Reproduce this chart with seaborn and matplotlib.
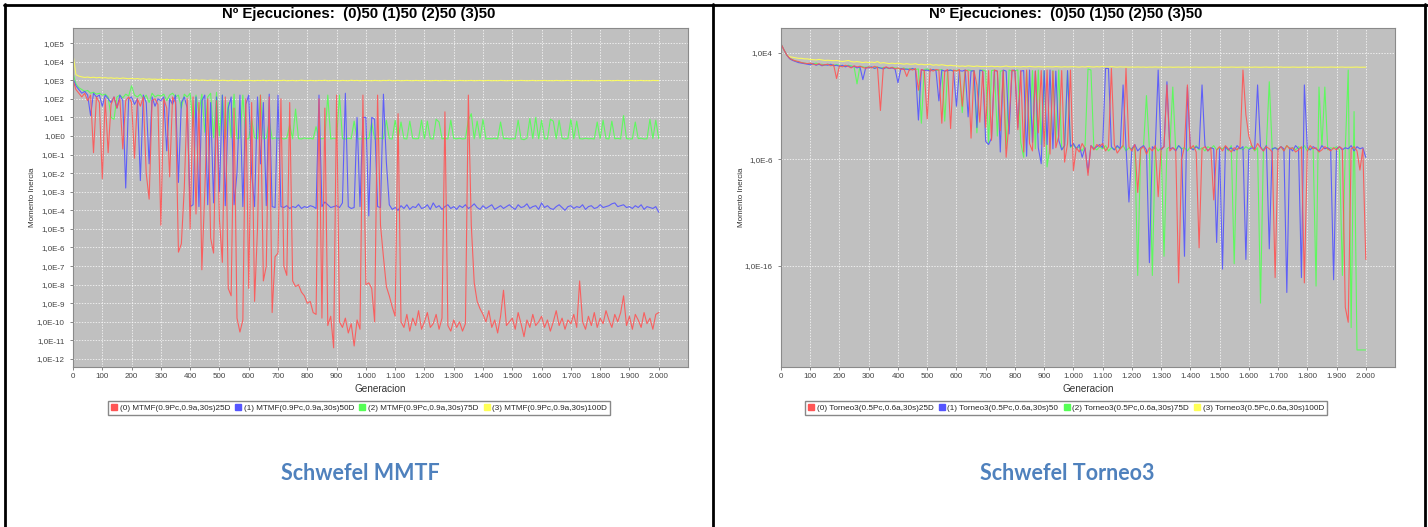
import numpy as np
import pandas as pd
import matplotlib
matplotlib.use("Agg")
import matplotlib.pyplot as plt
import seaborn as sns
from matplotlib.ticker import FuncFormatter, FixedLocator, NullLocator
from matplotlib.lines import Line2D

# ---------------------------------------------------------------- data
generacion = list(range(0, 2001, 10))

series_mtmf = ["(0) MTMF(0.9Pc,0.9a,30s)25D", "(1) MTMF(0.9Pc,0.9a,30s)50D",
               "(2) MTMF(0.9Pc,0.9a,30s)75D", "(3) MTMF(0.9Pc,0.9a,30s)100D"]
series_torneo = ["(0) Torneo3(0.5Pc,0.6a,30s)25D", "(1) Torneo3(0.5Pc,0.6a,30s)50",
                 "(2) Torneo3(0.5Pc,0.6a,30s)75D", "(3) Torneo3(0.5Pc,0.6a,30s)100D"]

# log10 of the inertia moment, one value every 10 generations
mtmf_25d = [
    3.00, 2.50, 2.30, 2.10, 2.30, 1.90, 2.20, -0.90, 2.10, 1.80,
    -2.30, 2.00, -0.90, 1.70, 2.10, 1.50, 2.00, -0.70, 1.90, 2.10,
    1.80, -1.20, 2.00, 1.60, 2.10, -2.00, -3.40, 1.90, 2.00, 1.70,
    -4.80, 2.00, 1.50, -2.20, 2.10, 1.80, -6.25, -5.80, -2.80, 2.00,
    -5.00, 2.10, -4.20, 1.80, -7.20, -3.00, 2.00, -5.50, -6.30, 1.90,
    -4.50, -6.80, 2.10, -8.20, -8.60, 1.50, -9.80, -10.55, -9.90, 2.00,
    -8.20, 1.80, -8.90, -5.00, 2.20, -7.80, -7.00, 2.10, -9.50, -6.50,
    -6.30, 2.00, -7.00, -7.50, 1.80, -7.80, -8.10, -8.00, -8.40, -8.60,
    -9.00, -8.90, -9.50, -9.60, 2.00, -9.80, 1.50, -10.20, -9.70, -11.40,
    2.20, -10.00, -10.30, -9.80, -10.60, -10.10, -11.30, -9.90, -10.40, 2.20,
    -8.00, -7.90, -8.20, -10.00, 2.20, -4.80, -6.50, -8.10, -8.60, -9.20,
    -9.70, 1.20, -10.00, -10.30, -9.60, -10.50, -9.80, -10.20, -9.40, -10.40,
    -10.00, -9.50, -10.30, -10.10, -9.60, -10.40, -9.80, 1.30, -10.20, -10.50,
    -9.90, -10.30, -10.00, -10.50, -10.10, 2.20, -4.80, -7.90, -8.90, -9.30,
    -9.60, -10.00, -9.40, -10.30, -9.90, -10.60, -9.70, -8.30, -10.20, -10.00,
    -9.80, -10.40, -9.50, -10.10, -10.80, -9.90, -10.30, -9.60, -10.20, -10.00,
    -9.70, -10.30, -9.90, -10.50, -10.00, -9.40, -10.20, -9.80, -10.40, -9.90,
    -10.10, -9.60, -10.30, -7.80, -10.00, -10.40, -9.70, -10.20, -9.50, -10.30,
    -9.80, -10.10, -9.40, -9.90, -10.30, -9.60, -10.00, -9.50, -8.60, -10.20,
    -9.70, -10.40, -9.60, -9.90, -10.30, -9.50, -10.10, -9.80, -10.40, -9.60,
    -9.50]
mtmf_50d = [
    3.10, 2.70, 2.50, 2.30, 2.40, 2.20, 1.10, 2.30, 2.10, 2.20,
    1.60, 2.20, 2.00, 1.80, 2.10, 1.50, 2.20, 1.90, -2.80, 2.00,
    2.10, 1.70, 2.00, -2.40, 2.20, 1.80, -1.50, 2.10, 1.60, 2.00,
    1.90, 2.10, -0.80, 2.00, 1.70, 2.20, -2.50, 1.80, 2.10, 1.50,
    -3.80, -3.70, 2.10, -3.80, 1.90, 2.20, -3.70, 1.80, -3.60, 2.10,
    -3.00, 2.20, -3.75, 1.50, 2.10, -3.70, -2.00, 2.20, -3.80, 1.70,
    2.20, -2.00, -3.80, 2.10, -1.50, 1.80, -3.75, 2.25, -3.80, -3.85,
    2.20, -3.80, -3.85, -3.75, -3.90, -3.80, -3.85, -3.70, -3.90, -3.80,
    -3.85, -3.75, -3.80, -3.90, 2.20, -3.80, -3.55, -3.70, -3.85, -3.80,
    -3.75, -3.85, -3.60, 2.30, -3.80, -3.90, -3.85, 1.00, -3.80, 1.00,
    1.00, -4.30, 1.00, 0.90, -3.80, -3.85, 2.25, -1.40, -3.70, -3.95,
    -3.85, -4.00, -3.75, -3.90, -3.70, -3.95, -3.80, -3.85, -3.65, -3.90,
    -3.85, -3.70, -3.95, -3.60, -3.85, -3.75, -3.95, -3.80, -3.70, -3.90,
    -3.80, -3.95, -3.75, -3.85, -3.70, -3.90, -3.80, -3.65, -3.85, -3.95,
    -3.75, -3.90, -3.80, -3.70, -3.95, -3.85, -3.75, -3.90, -3.80, -3.70,
    -3.85, -3.95, -3.70, -3.85, -3.80, -3.65, -3.90, -3.80, -3.75, -3.95,
    -3.60, -3.85, -3.75, -3.90, -3.95, -3.80, -3.70, -3.85, -4.00, -3.80,
    -3.75, -3.90, -3.80, -3.85, -3.70, -3.95, -3.80, -3.75, -3.90, -3.85,
    -3.70, -3.85, -3.80, -3.75, -3.65, -3.60, -3.80, -3.75, -3.70, -3.85,
    -3.80, -3.90, -3.75, -3.85, -3.70, -3.95, -3.80, -3.85, -3.90, -3.80,
    -4.10]
mtmf_75d = [
    3.40, 2.80, 2.60, 2.50, 2.40, 2.45, 2.30, 2.35, 2.25, 2.30,
    2.20, 2.25, 2.10, 1.00, 0.90, 2.10, 2.20, 2.05, 2.25, 2.15,
    2.70, 2.20, 2.10, 2.25, 2.00, 2.20, 1.80, 2.30, 2.10, 2.20,
    2.15, 2.25, 1.90, 2.20, 2.30, 2.10, 2.20, 1.50, 2.25, 2.10,
    2.30, 0.50, 2.20, 1.20, 2.25, 0.20, 2.10, 2.30, -0.10, 2.35,
    0.00, 2.20, -0.15, 1.80, -0.10, 2.25, -0.15, -0.10, 2.20, -0.15,
    -0.15, 0.90, -0.10, -0.15, 2.20, -0.15, -0.12, 0.80, -0.15, -0.10,
    -0.15, -0.10, -0.16, -0.12, 0.60, -0.15, 1.45, -0.14, -0.16, -0.10,
    -0.15, -0.12, -0.16, 0.50, -0.14, -0.15, -0.10, 2.20, -0.16, -0.12,
    -0.15, 2.20, -0.14, -0.16, -0.12, -0.15, 0.80, -0.14, -0.16, -0.12,
    -0.15, -0.13, 0.70, -0.16, -0.14, -0.12, -0.15, 0.85, -0.14, -0.16,
    0.85, -0.15, 0.75, -0.14, -0.16, 0.80, -0.13, -0.15, -0.14, 0.85,
    -0.15, 0.80, -0.14, -0.16, 0.90, 0.75, -0.15, -0.13, -0.16, 0.85,
    -0.14, -0.15, -0.12, -0.16, -0.14, 0.85, 1.20, -0.15, 0.80, -0.14,
    0.90, -0.16, -0.14, -0.15, -0.12, -0.16, 0.75, -0.15, -0.13, -0.16,
    -0.15, -0.14, 0.85, -0.16, -0.20, -0.12, 0.95, -0.14, 1.00, -0.15,
    0.85, -0.14, -0.16, 0.90, 0.80, -0.15, 0.85, -0.13, -0.16, -0.14,
    0.90, -0.15, 0.80, -0.14, -0.16, -0.12, -0.15, -0.14, -0.16, 0.75,
    -0.15, 0.85, -0.14, -0.16, 0.80, -0.15, -0.13, -0.16, 1.10, -0.14,
    -0.16, -0.15, 0.75, -0.14, -0.12, -0.16, -0.15, 0.90, -0.14, 0.85,
    -0.14]
mtmf_100d = [
    4.40, 3.30, 3.22, 3.18, 3.15, 3.17, 3.14, 3.16, 3.13, 3.15,
    3.12, 3.14, 3.11, 3.13, 3.10, 3.12, 3.09, 3.12, 3.10, 3.08,
    3.10, 3.07, 3.09, 3.06, 3.08, 3.05, 3.07, 3.05, 3.06, 3.04,
    3.06, 3.03, 3.05, 3.02, 3.04, 3.02, 3.03, 3.01, 3.03, 3.00,
    3.02, 3.00, 3.02, 2.99, 3.01, 3.00, 2.98, 3.01, 2.99, 3.00,
    2.98, 3.00, 2.99, 2.97, 3.00, 2.98, 2.99, 2.97, 2.99, 2.98,
    3.00, 2.98, 2.97, 2.99, 2.98, 3.00, 2.97, 2.99, 2.98, 2.97,
    2.99, 2.98, 3.00, 2.97, 2.98, 2.99, 2.97, 2.98, 3.00, 2.98,
    2.97, 2.99, 2.98, 2.97, 2.99, 2.98, 3.00, 2.97, 2.98, 2.99,
    2.98, 2.97, 2.99, 2.98, 2.97, 3.00, 2.98, 2.99, 2.97, 2.98,
    2.99, 2.98, 2.97, 2.99, 2.98, 2.97, 2.99, 2.98, 3.00, 2.97,
    2.98, 2.99, 2.97, 2.98, 2.99, 2.98, 2.97, 2.99, 2.98, 2.97,
    2.99, 2.98, 2.97, 2.98, 2.99, 2.97, 2.98, 2.99, 2.98, 2.97,
    2.98, 2.97, 2.99, 2.98, 2.97, 2.98, 2.99, 2.97, 2.98, 2.99,
    2.97, 2.98, 2.99, 2.97, 2.98, 2.97, 2.99, 2.98, 2.97, 2.98,
    2.99, 2.97, 2.98, 2.99, 2.98, 2.97, 2.98, 2.99, 2.97, 2.98,
    2.98, 2.99, 2.97, 2.98, 2.97, 2.99, 2.98, 2.97, 2.98, 2.99,
    2.97, 2.98, 2.99, 2.98, 2.97, 2.98, 2.97, 2.99, 2.98, 2.97,
    2.98, 2.97, 2.98, 2.99, 2.97, 2.98, 2.99, 2.98, 2.97, 2.98,
    2.99, 2.98, 2.97, 2.98, 2.99, 2.97, 2.98, 2.97, 2.99, 2.98,
    2.98]

torneo_25d = [
    4.85, 4.30, 3.80, 3.50, 3.35, 3.25, 3.20, 3.10, 3.05, 3.00,
    3.05, 2.95, 2.90, 3.00, 2.85, 2.90, 2.95, 2.80, 2.90, 1.60,
    2.80, 2.70, 2.85, 2.75, 2.60, 2.80, 2.70, 2.75, 2.65, 2.55,
    2.70, 2.60, 2.75, 2.65, -1.40, 2.60, 2.70, 2.55, 2.65, 2.50,
    2.60, 2.45, 2.55, 1.80, 2.50, 2.40, 2.55, 0.50, 2.45, 2.35,
    -2.20, 2.50, 2.30, 2.45, 2.40, -2.60, 2.30, 2.45, -3.10, 2.40,
    2.30, 2.45, -1.00, 2.40, 2.30, -4.00, 2.35, 1.00, -2.50, 2.30,
    -3.00, 2.35, -4.20, 2.40, 2.30, -3.30, 2.35, -5.80, -2.50, 2.40,
    2.30, -3.20, 2.35, -5.30, 2.40, -4.50, -5.20, 2.30, -3.50, 2.35,
    -4.80, 2.40, -5.50, 2.30, -4.90, -3.80, 2.35, -6.25, -4.50, 2.40,
    -7.05, -4.90, -5.30, -4.50, -5.00, -7.50, -4.70, -5.10, -4.60, -4.80,
    -4.50, -5.20, -4.80, 2.55, -4.60, -5.40, -5.00, -4.70, 2.55, -4.80,
    -5.20, -4.60, -9.10, -5.00, -4.80, -5.50, -4.90, -5.20, -4.70, -9.50,
    -5.00, -4.80, 1.00, -5.20, -4.90, -5.10, -17.60, -6.00, -4.80, 1.00,
    -5.00, -4.70, -5.30, -14.30, -5.00, -4.80, -5.20, -4.90, -9.80, -5.10,
    -4.80, -5.20, -4.70, -5.00, -5.30, -4.90, -5.10, -4.80, 2.40, -1.80,
    -3.80, -4.70, -5.10, -4.50, -4.90, -5.20, -4.80, -5.00, -5.30, -17.10,
    -5.00, -4.80, -5.20, -4.70, -5.00, -4.90, -5.30, -5.10, -4.80, -17.60,
    -5.20, -4.70, -5.00, -4.90, -5.30, -5.10, -4.80, -5.00, -5.20, -4.90,
    -5.10, -4.80, -5.00, -19.90, -21.30, -5.00, -4.80, -5.20, -7.00, -5.00,
    -15.40]
torneo_50d = [
    4.85, 4.30, 3.80, 3.45, 3.30, 3.20, 3.10, 3.05, 3.00, 2.95,
    2.90, 3.00, 2.85, 2.95, 2.80, 2.90, 2.85, 2.95, 2.80, 2.85,
    2.75, 2.85, 2.70, 2.80, 2.65, 2.75, 2.60, 2.70, 1.50, 2.65,
    2.60, 2.70, 2.55, 2.65, 2.60, 2.50, 2.65, 2.55, 2.60, 2.50,
    1.20, 2.55, 2.45, 2.50, 2.40, 2.55, 2.40, -2.30, 2.45, 2.35,
    2.40, 2.30, 2.45, 2.35, -0.50, 2.40, 2.30, 2.35, 2.40, 2.30,
    -1.00, 2.35, 2.30, 2.40, -2.00, 2.30, 2.35, -3.00, 2.40, 2.30,
    -4.30, -4.60, -4.00, 2.35, 2.30, -5.30, 2.40, 2.30, -3.60, 2.35,
    2.40, -3.00, 2.30, 2.35, -5.70, 2.40, -4.40, 2.30, -4.90, -6.40,
    2.35, -4.60, 2.40, -5.00, 2.30, -4.20, -5.10, -4.70, 2.35, -4.80,
    -4.50, -5.00, -4.60, -5.80, -4.90, -7.20, -4.70, -5.00, -4.80, -4.60,
    -4.90, 2.55, 2.55, -4.80, -5.10, -4.70, -5.00, 1.00, -4.80, -10.00,
    -5.00, -4.60, -5.20, -4.90, -4.70, -5.10, -15.70, -4.80, -5.00, 2.40,
    -5.10, -4.80, 1.30, -5.00, -4.90, -5.20, -4.70, -5.00, -15.10, 0.80,
    -4.90, -5.10, -4.80, -5.00, 1.00, -4.70, -5.20, -4.90, -5.00, -13.80,
    -5.00, -16.30, -4.80, -5.10, -4.90, -5.20, -4.70, -5.00, -4.80, -15.40,
    -5.10, -4.90, -5.00, 1.00, -4.80, -5.20, -4.70, -14.40, -5.00, -4.90,
    -5.10, -4.80, -5.00, -18.50, -4.90, -5.20, -4.70, -5.00, -17.10, 1.00,
    -4.90, -5.10, -4.80, -5.00, -5.20, -4.70, -5.00, -4.90, -5.10, -17.30,
    -5.00, -4.80, -5.10, -4.90, -5.00, -4.70, -5.20, -4.80, -5.00, -4.90,
    -5.80]
torneo_75d = [
    4.85, 4.30, 3.80, 3.50, 3.35, 3.25, 3.15, 3.10, 3.05, 3.00,
    3.00, 2.95, 3.05, 2.90, 2.95, 2.85, 2.95, 2.90, 2.85, 2.90,
    2.85, 2.80, 2.75, 2.85, 2.80, 2.70, 1.10, 2.75, 2.70, 2.65,
    2.70, 2.65, 2.60, 2.70, 2.55, 2.65, 2.60, 2.55, 2.65, 2.60,
    2.55, 2.50, 2.60, 2.45, 2.55, 2.50, 2.45, 2.50, -2.60, 2.45,
    2.50, 2.40, 2.45, 2.35, 2.40, 2.45, -2.40, 2.35, 2.40, 2.30,
    2.40, 2.35, -1.60, 2.30, 2.40, 2.35, 2.30, -3.50, 2.35, 2.40,
    2.30, -4.50, 2.35, 2.40, -3.80, 2.30, 2.35, -5.00, 2.40, 2.30,
    2.35, 2.40, -4.40, -5.80, 2.30, -4.20, 2.35, -5.00, 2.40, -4.60,
    2.30, -6.70, -4.80, 2.35, -4.40, 2.40, -5.10, -4.70, 2.30, -4.90,
    -4.60, -5.00, -4.80, -5.20, -4.70, 2.50, 2.40, -4.90, -5.10, -4.80,
    -5.00, -4.70, -5.20, -4.90, -5.10, -4.80, -5.00, -4.70, -5.20, -4.90,
    -5.00, -4.80, -16.90, -5.10, -4.70, 0.00, -5.00, -16.90, -4.80, -5.20,
    -4.90, -15.10, -5.00, -4.80, 0.80, -5.10, -4.70, -5.00, -4.90, -5.20,
    -4.80, -5.00, -4.70, -5.10, -4.90, -5.20, -4.80, -5.00, -4.70, -5.10,
    -4.90, -5.00, -4.80, -5.20, -4.70, -15.80, -5.00, -4.90, -5.10, -4.80,
    -5.00, -4.70, -5.20, -4.90, -19.50, -5.00, -4.80, 1.30, -5.10, -4.90,
    -5.00, -4.80, -5.20, -4.70, -5.00, -4.90, -5.10, -4.80, -5.00, -4.70,
    -5.20, -4.90, -5.00, -17.90, 0.80, -4.80, 0.80, -5.10, -4.90, -5.00,
    -4.80, -5.10, -16.90, -5.00, 2.40, -21.80, -1.50, -23.90, -23.90, -23.90,
    -23.90]
torneo_100d = [
    4.85, 4.30, 3.80, 3.65, 3.60, 3.55, 3.50, 3.50, 3.45, 3.45,
    3.40, 3.38, 3.35, 3.40, 3.35, 3.30, 3.32, 3.30, 3.28, 3.30,
    3.25, 3.20, 3.25, 3.30, 3.20, 3.15, 3.20, 3.15, 3.10, 3.15,
    3.10, 3.15, 3.10, 3.20, 3.05, 3.10, 3.05, 3.00, 3.05, 3.00,
    3.05, 3.00, 2.95, 3.00, 2.95, 2.95, 3.00, 2.90, 2.95, 2.90,
    2.90, 2.95, 2.85, 2.90, 2.85, 2.90, 2.85, 2.80, 2.85, 2.80,
    2.80, 2.75, 2.78, 2.74, 2.80, 2.76, 2.73, 2.78, 2.74, 2.72,
    2.75, 2.72, 2.76, 2.71, 2.74, 2.70, 2.73, 2.78, 2.72, 2.70,
    2.74, 2.71, 2.69, 2.73, 2.70, 2.75, 2.71, 2.69, 2.72, 2.70,
    2.68, 2.72, 2.70, 2.69, 2.73, 2.70, 2.68, 2.71, 2.69, 2.70,
    2.72, 2.69, 2.67, 2.71, 2.68, 2.74, 2.70, 2.68, 2.72, 2.69,
    2.75, 2.70, 2.68, 2.73, 2.69, 2.67, 2.70, 2.68, 2.69, 2.67,
    2.68, 2.67, 2.69, 2.67, 2.68, 2.66, 2.68, 2.67, 2.69, 2.67,
    2.68, 2.66, 2.67, 2.68, 2.66, 2.67, 2.68, 2.66, 2.67, 2.68,
    2.66, 2.67, 2.68, 2.66, 2.67, 2.66, 2.68, 2.67, 2.66, 2.67,
    2.68, 2.66, 2.67, 2.66, 2.68, 2.67, 2.66, 2.67, 2.68, 2.66,
    2.67, 2.66, 2.68, 2.67, 2.66, 2.67, 2.68, 2.66, 2.67, 2.66,
    2.67, 2.68, 2.66, 2.67, 2.66, 2.68, 2.67, 2.66, 2.67, 2.68,
    2.66, 2.67, 2.66, 2.68, 2.67, 2.66, 2.67, 2.66, 2.68, 2.67,
    2.66, 2.67, 2.68, 2.66, 2.67, 2.66, 2.67, 2.68, 2.66, 2.67,
    2.67]

colores = ["#FF5555", "#5555FF", "#55FF55", "#FFFF55"]

titulo = "Nº Ejecuciones:  (0)50 (1)50 (2)50 (3)50"
caption_izq = "Schwefel MMTF"
caption_der = "Schwefel Torneo3"

# ---------------------------------------------------------------- figure
sns.set_theme(style="white")
plt.rcParams["font.family"] = ["Liberation Sans", "DejaVu Sans"]

W, H = 1428, 527
fig = plt.figure(figsize=(W / 100, H / 100), dpi=100)
fig.patch.set_facecolor("white")


def px_box(x0, y0, x1, y1):
    return [x0 / W, 1 - y1 / H, (x1 - x0) / W, (y1 - y0) / H]


def fx(x):
    return x / W


def fy(y):
    return 1 - y / H


def long_frame(names, arrays):
    rows = []
    for name, vals in zip(names, arrays):
        rows.append(pd.DataFrame({"Generacion": generacion,
                                  "Momento": np.power(10.0, vals),
                                  "Serie": name}))
    return pd.concat(rows, ignore_index=True)


def exp_label(v, _pos):
    if v <= 0:
        return ""
    return "1,0E%d" % int(round(np.log10(v)))


def gen_label(v, _pos):
    return "{:,}".format(int(round(v))).replace(",", ".")


def draw_panel(rect, names, arrays, ylog_lim, ydecades, center_x):
    ax = fig.add_axes(px_box(*rect))
    df = long_frame(names, arrays)
    palette = dict(zip(names, colores))
    # last series underneath, first series on top
    sns.lineplot(data=df, x="Generacion", y="Momento", hue="Serie",
                 hue_order=names[::-1], palette=palette, estimator=None,
                 legend=False, linewidth=0.8, alpha=0.9, ax=ax)
    ax.set_yscale("log")
    ax.set_xlim(0, 2100)
    ax.set_ylim(10 ** ylog_lim[0], 10 ** ylog_lim[1])
    ax.set_facecolor("#C0C0C0")
    ax.yaxis.set_major_locator(FixedLocator([10.0 ** d for d in ydecades]))
    ax.yaxis.set_minor_locator(NullLocator())
    ax.yaxis.set_major_formatter(FuncFormatter(exp_label))
    ax.xaxis.set_major_locator(FixedLocator(list(range(0, 2001, 100))))
    ax.xaxis.set_major_formatter(FuncFormatter(gen_label))
    ax.grid(True, color="white", linestyle=(0, (2, 2)), linewidth=0.5)
    for sp in ax.spines.values():
        sp.set_color("#8A8A8A")
        sp.set_linewidth(0.8)
    ax.tick_params(axis="x", which="major", labelsize=5.8, colors="#555555",
                   length=2, width=0.5, pad=2, direction="out", bottom=True)
    ax.tick_params(axis="y", which="major", labelsize=5.8, colors="#555555",
                   length=2, width=0.5, pad=4, direction="out", left=True)
    for lab in ax.get_xticklabels() + ax.get_yticklabels():
        lab.set_color("#444444")
    ax.set_xlabel("")
    ax.set_ylabel("")

    x0, y0, x1, y1 = rect
    fig.text(fx(center_x), fy(14), titulo, ha="center", va="center",
             fontsize=10.8, fontweight="bold", color="black")
    fig.text(fx(x0 - 40), fy((y0 + y1) / 2), "Momento Inercia", rotation=90,
             ha="center", va="center", fontsize=5.8, color="#333333")
    fig.text(fx((x0 + x1) / 2), fy(389), "Generacion", ha="center",
             va="center", fontsize=7.2, color="#333333")

    handles = [Line2D([], [], marker="s", linestyle="none", markersize=4.2,
                      markerfacecolor=c, markeredgecolor=c) for c in colores]
    fig.legend(handles, names, loc="center", ncol=4,
               bbox_to_anchor=(fx(center_x), fy(408)), fontsize=5.85,
               frameon=True, fancybox=False, edgecolor="#888888",
               facecolor="white", framealpha=1, borderpad=0.35,
               handletextpad=0.3, columnspacing=0.6, handlelength=0.8,
               borderaxespad=0)
    return ax


draw_panel((73, 28, 688, 367), series_mtmf,
           [mtmf_25d, mtmf_50d, mtmf_75d, mtmf_100d],
           (-12.43, 5.81), list(range(-12, 6)), 359)
draw_panel((781, 28, 1395, 367), series_torneo,
           [torneo_25d, torneo_50d, torneo_75d, torneo_100d],
           (-25.5, 6.35), [4, -6, -16], 1066)

# captions below each chart
fig.text(fx(360), fy(473), caption_izq, ha="center", va="center",
         fontsize=15.5, fontweight="bold", color="#4F81BD", family="Lato")
fig.text(fx(1067), fy(473), caption_der, ha="center", va="center",
         fontsize=15.5, fontweight="bold", color="#4F81BD", family="Lato")

# table borders
for (xa, ya, xb, yb) in [(4, 5, 1428, 5), (5, 4, 5, 527),
                         (713, 4, 713, 527), (1425, 4, 1425, 527)]:
    fig.add_artist(Line2D([fx(xa), fx(xb)], [fy(ya), fy(yb)],
                          color="black", linewidth=2.0))

fig.savefig("out.png", dpi=100, facecolor="white")
